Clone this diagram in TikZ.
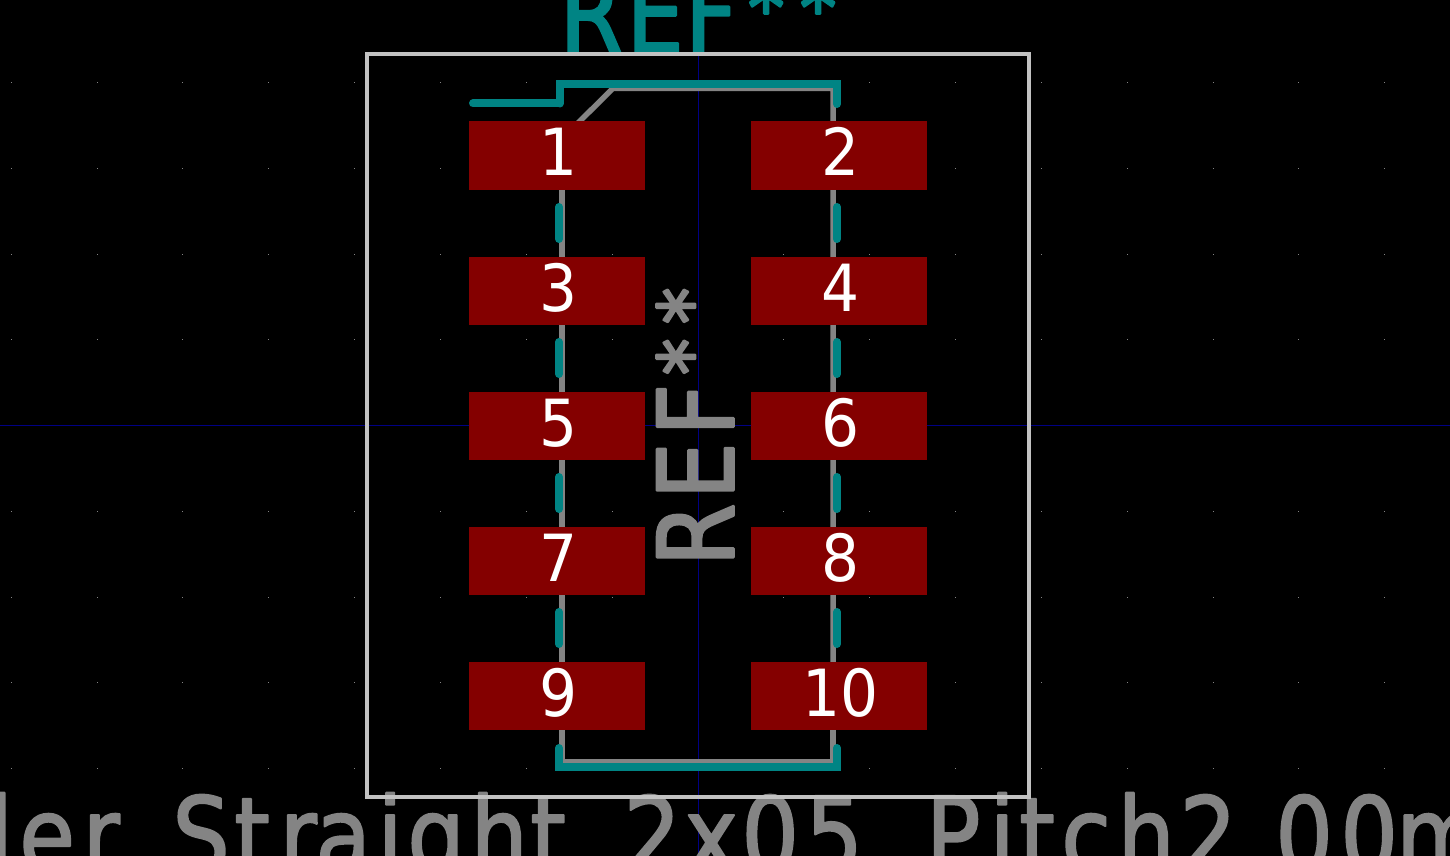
\documentclass[tikz,border=0pt]{standalone}
\usepackage{fontspec}
\setmainfont{DejaVu Sans}
\newfontfamily\strokefont[FakeStretch=0.86]{DejaVu Sans}
\newfontfamily\digitfont[FakeStretch=0.92]{DejaVu Sans}
\definecolor{silk}{RGB}{0,132,132}
\definecolor{fab}{RGB}{132,132,132}
\definecolor{court}{RGB}{194,194,194}
\definecolor{padred}{RGB}{132,0,0}
\definecolor{axisblue}{RGB}{0,0,132}
\newdimen\gcur
\newcommand{\gstart}{\gcur=0pt\relax}
\newcommand{\gc}[2]{\setbox0\hbox{#2}\dimen0=#1pt\relax\advance\dimen0 by -0.5\wd0\relax\advance\dimen0 by -\gcur\relax\kern\dimen0\relax\gcur=#1pt\relax\advance\gcur by 0.5\wd0\relax\box0\relax}
\newcommand{\roundstroke}[3]{\special{pdf:code q 2 Tr 1 j 1 J #1 w #2 RG}#3\special{pdf:code 0 Tr Q}}
\newcommand{\padnum}[1]{\raisebox{-20.5pt}[0pt][0pt]{\hspace{3pt}#1}}
\newcommand{\smallstar}{\raisebox{14pt}{\fontsize{85}{85}\selectfont *}}
\tikzset{
  padbox/.style={fill=padred,draw=none,minimum width=176pt,minimum height=68pt,inner sep=0pt,text=white,font=\digitfont\fontsize{65}{65}\selectfont},
  silkline/.style={draw=silk,line width=8pt,line cap=round,line join=round},
  silkcorner/.style={draw=silk,line width=8pt,line cap=round,line join=miter},
  fabline/.style={draw=fab,line width=5.5pt,line cap=butt,line join=miter},
  courtline/.style={draw=court,line width=4pt},
  griddot/.style={fill=fab},
  bigtext/.style={font=\strokefont\fontsize{105}{105}\selectfont,anchor=base west,inner sep=0pt},
}
\begin{document}
\begin{tikzpicture}[x=1pt,y=-1pt]
\useasboundingbox (0,0) rectangle (1450,856);
\fill[black] (0,0) rectangle (1450,856);
\clip (0,0) rectangle (1450,856);
% grid
\foreach \i in {-8,...,8}{\foreach \j in {-4,...,4}{
  \fill[griddot] ({698+\i*85.85-0.5},{425.5+\j*85.75-0.5}) rectangle +(1,1);}}
\draw[axisblue,line width=1.3pt] (0,425.5) -- (1450,425.5);
\draw[axisblue,line width=1.3pt] (698.5,0) -- (698.5,856);
% fab outline
\draw[fabline] (562,730) -- (562,761.5) -- (833,761.5) -- (833,730);
\draw[fabline] (562,122) -- (562,730);
\draw[fabline] (833,730) -- (833,88.3) -- (613,88.3) -- (576,125);
% fab texts
\node[bigtext,text=fab,rotate=90] (fabref) at (733.5,600) {\roundstroke{2.5}{0.518 0.518 0.518}{\gstart\gc{65}{R}\gc{129}{E}\gc{190}{F}\gc{243}{\smallstar}\gc{294}{\smallstar}}};
\node[bigtext,text=fab] (fabval) at (0,872.5) {\roundstroke{2}{0.518 0.518 0.518}{\gstart\gc{-16}{d}\gc{47}{e}\gc{101}{r}\gc{201}{S}\gc{252}{t}\gc{298}{r}\gc{343}{a}\gc{390}{i}\gc{436}{g}\gc{499}{h}\gc{548}{t}\gc{652}{2}\gc{711}{x}\gc{770}{0}\gc{834}{5}\gc{953}{P}\gc{1002}{i}\gc{1037}{t}\gc{1086}{c}\gc{1146}{h}\gc{1208}{2}\gc{1255}{.}\gc{1304}{0}\gc{1369}{0}\gc{1440}{m}}};
% silk
\node[bigtext,text=silk] (silkref) at (0,52) {\roundstroke{2.5}{0 0.518 0.518}{\gstart\gc{591}{R}\gc{655}{E}\gc{711}{F}\gc{766}{\smallstar}\gc{818}{\smallstar}}};
\draw[silkline] (473,103.5) -- (559.5,103.5);
\draw[silkcorner] (559.5,103.5) -- (559.5,84) -- (837,84) -- (837,104);
\foreach \x in {559,837}{\foreach \a/\b in {207/239,342/374,477/509,612/644}{
  \draw[silkline] (\x,\a) -- (\x,\b);}}
\draw[silkcorner] (559,748) -- (559,767) -- (837,767) -- (837,748);
% courtyard
\draw[courtline] (367,54) rectangle (1029,797);
% pads
\node[padbox] (p1) at (557,155.5) {\padnum{1}};
\node[padbox] (p2) at (839,155.5) {\padnum{2}};
\node[padbox] (p3) at (557,290.5) {\padnum{3}};
\node[padbox] (p4) at (839,290.5) {\padnum{4}};
\node[padbox] (p5) at (557,425.5) {\padnum{5}};
\node[padbox] (p6) at (839,425.5) {\padnum{6}};
\node[padbox] (p7) at (557,560.5) {\padnum{7}};
\node[padbox] (p8) at (839,560.5) {\padnum{8}};
\node[padbox] (p9) at (557,696) {\padnum{9}};
\node[padbox] (p10) at (839,696) {\padnum{10}};
\end{tikzpicture}
\end{document}
